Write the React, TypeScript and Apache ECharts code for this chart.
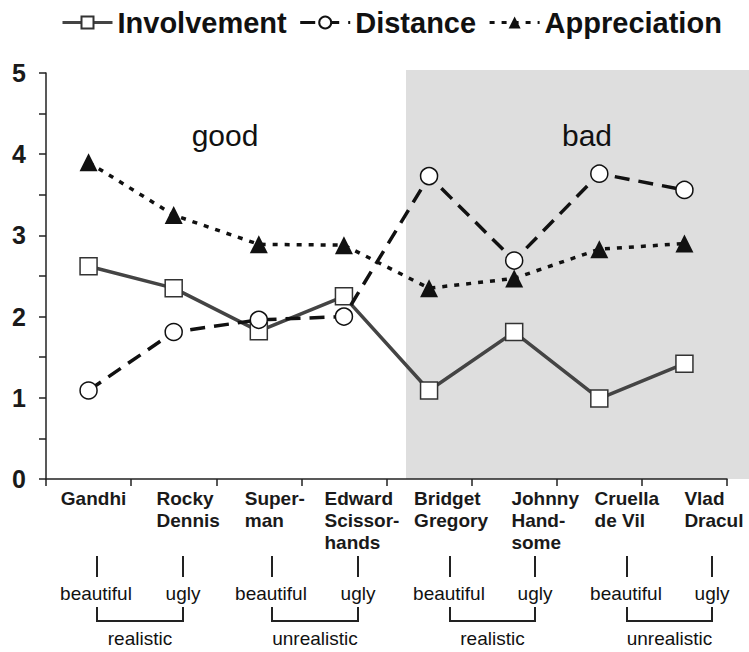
import React, { useEffect, useRef } from "react";
import * as echarts from "echarts";

const categories = [
  "Gandhi",
  "Rocky\nDennis",
  "Super-\nman",
  "Edward\nScissor-\nhands",
  "Bridget\nGregory",
  "Johnny\nHand-\nsome",
  "Cruella\nde Vil",
  "Vlad\nDracul",
];
const involvement = [2.62, 2.35, 1.82, 2.25, 1.09, 1.81, 0.99, 1.42];
const distance = [1.09, 1.81, 1.96, 2.0, 3.73, 2.69, 3.76, 3.56];
const appreciation = [3.9, 3.25, 2.89, 2.88, 2.35, 2.47, 2.83, 2.9];
const seriesNames = ["Involvement", "Distance", "Appreciation"];
const zoneLabels = ["good", "bad"];
const pairLabels = ["beautiful", "ugly"];
const groupLabels = ["realistic", "unrealistic", "realistic", "unrealistic"];

// layout (pixels) - not data
const labelShift = [10, 29, 32, 36, 44, 62, 55, 59];
const beautifulX = [97, 272, 450, 627];
const uglyX = [183, 358, 535, 712];

const FONT = '"Liberation Sans", Arial, Helvetica, sans-serif';

export default function App() {
  const ref = useRef<HTMLDivElement>(null);
  useEffect(() => {
    if (!ref.current) return;
    const chart = echarts.init(ref.current, null, { renderer: "svg" });

    const rich: Record<string, any> = {};
    categories.forEach((_, i) => {
      rich["c" + i] = {
        padding: [0, 0, 0, labelShift[i]],
        align: "left",
        fontSize: 19,
        fontWeight: "bold",
        lineHeight: 22,
        color: "#1a1a1a",
        fontFamily: FONT,
      };
    });

    const graphics: any[] = [
      {
        type: "rect",
        z: -10,
        shape: { x: 406, y: 70, width: 343, height: 409 },
        style: { fill: "#dedede" },
        silent: true,
      },
      {
        type: "text",
        x: 225,
        y: 135,
        style: { text: zoneLabels[0], font: "30px " + FONT, fill: "#111", textAlign: "center", textVerticalAlign: "middle" },
      },
      {
        type: "text",
        x: 587,
        y: 135,
        style: { text: zoneLabels[1], font: "30px " + FONT, fill: "#111", textAlign: "center", textVerticalAlign: "middle" },
      },
    ];
    beautifulX.forEach((bx, g) => {
      const ux = uglyX[g];
      [bx, ux].forEach((x, k) => {
        graphics.push({
          type: "line",
          shape: { x1: x, y1: 556, x2: x, y2: 577 },
          style: { stroke: "#222", lineWidth: 2 },
        });
        graphics.push({
          type: "text",
          x: k === 0 ? x - 1 : x,
          y: 593,
          style: { text: pairLabels[k], font: "19px " + FONT, fill: "#111", textAlign: "center", textVerticalAlign: "middle" },
        });
      });
      graphics.push({
        type: "polyline",
        shape: { points: [[bx, 607], [bx, 621], [ux, 621], [ux, 607]] },
        style: { stroke: "#222", lineWidth: 2, fill: null },
      });
      graphics.push({
        type: "text",
        x: (bx + ux) / 2,
        y: 638,
        style: { text: groupLabels[g], font: "19px " + FONT, fill: "#111", textAlign: "center", textVerticalAlign: "middle" },
      });
    });

    chart.setOption({
      animation: false,
      textStyle: { fontFamily: FONT },
      legend: {
        left: 56,
        top: 3,
        itemWidth: 50,
        itemHeight: 15,
        itemGap: 12,
        lineStyle: { width: 3 },
        textStyle: { fontSize: 29, fontWeight: "bold", color: "#111", fontFamily: FONT },
        data: seriesNames,
      },
      grid: { left: 46, right: 22, top: 73, bottom: 173 },
      xAxis: {
        type: "category",
        data: categories,
        boundaryGap: true,
        axisLine: { lineStyle: { color: "#222", width: 1.5 } },
        axisTick: { show: true, length: 7, lineStyle: { color: "#222", width: 1.5 } },
        axisLabel: {
          interval: 0,
          margin: 8,
          align: "center",
          formatter: (v: string, i: number) => "{c" + i + "|" + v + "}",
          rich,
        },
      },
      yAxis: {
        type: "value",
        min: 0,
        max: 5,
        interval: 0.5,
        axisLine: { show: true, lineStyle: { color: "#222", width: 1.5 } },
        axisTick: { show: true, length: 7, lineStyle: { color: "#222", width: 1.5 } },
        splitLine: { show: false },
        axisLabel: {
          margin: 20,
          fontSize: 25,
          fontWeight: "bold",
          color: "#1a1a1a",
          fontFamily: FONT,
          padding: [0, 0, 4, 0],
          formatter: (v: number) => (Number.isInteger(v) ? String(v) : ""),
        },
      },
      graphic: graphics,
      series: [
        {
          name: seriesNames[0],
          type: "line",
          data: involvement,
          symbol: "rect",
          symbolSize: 17,
          lineStyle: { color: "#444", width: 3.5, type: "solid" },
          itemStyle: { color: "#fff", borderColor: "#333", borderWidth: 1.5 },
          z: 3,
        },
        {
          name: seriesNames[1],
          type: "line",
          data: distance,
          symbol: "circle",
          symbolSize: 17,
          lineStyle: { color: "#111", width: 3.5, type: [15, 9] },
          itemStyle: { color: "#fff", borderColor: "#111", borderWidth: 1.5 },
          z: 4,
        },
        {
          name: seriesNames[2],
          type: "line",
          data: appreciation,
          symbol: "triangle",
          symbolSize: 18,
          lineStyle: { color: "#111", width: 3.5, type: [5, 7] },
          itemStyle: { color: "#111", borderColor: "#111", borderWidth: 0 },
          z: 2,
        },
      ],
    });
    return () => chart.dispose();
  }, []);
  return (
    <div
      ref={ref}
      style={{ position: "fixed", left: 0, top: 0, width: 749, height: 652, background: "#fff" }}
    />
  );
}
